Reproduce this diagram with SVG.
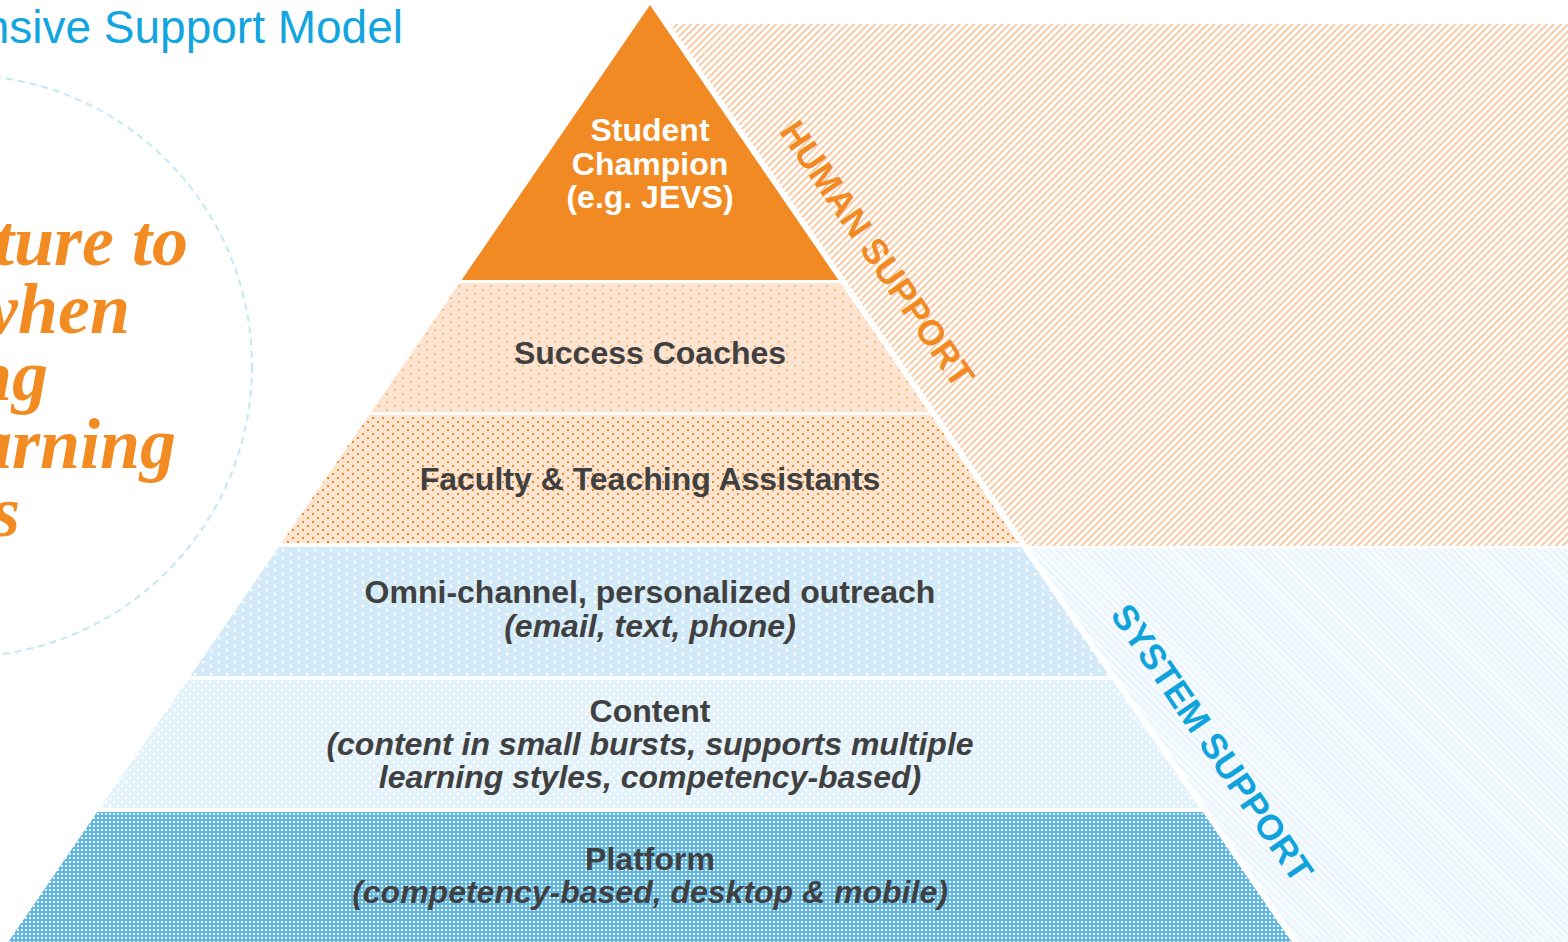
<svg xmlns="http://www.w3.org/2000/svg" width="1568" height="942" viewBox="0 0 1568 942">
<style>
.lbl{font-family:"Liberation Sans",Arial,sans-serif;font-weight:bold;font-size:32px;fill:#404040;text-anchor:middle}
.it{font-style:italic}
.wh{fill:#ffffff}
.big{font-family:"Liberation Serif","Times New Roman",serif;font-weight:bold;font-style:italic;font-size:72px;fill:#F38B23;text-anchor:end}
.side{font-family:"Liberation Sans",Arial,sans-serif;font-weight:bold;font-size:35.5px;text-anchor:middle;dominant-baseline:central}
</style>
<defs>
<pattern id="hatchO" width="5" height="5" patternUnits="userSpaceOnUse" patternTransform="rotate(45)">
<rect width="5" height="5" fill="#ffffff"/>
<rect x="0" y="0" width="1.7" height="5" fill="#F9C195"/>
</pattern>
<pattern id="hatchB" width="5" height="5" patternUnits="userSpaceOnUse" patternTransform="rotate(-45)">
<rect width="5" height="5" fill="#EAF5FD"/>
<rect x="0" y="0" width="1.6" height="5" fill="#ffffff"/>
</pattern>
<pattern id="dotSC" width="16" height="8" patternUnits="userSpaceOnUse">
<rect width="16" height="8" fill="#FDE4D0"/>
<rect x="2" y="1" width="2" height="2" fill="#F9B67C"/>
<rect x="10" y="5" width="2" height="2" fill="#F9B67C"/>
</pattern>
<pattern id="dotFA" width="10" height="8" patternUnits="userSpaceOnUse">
<rect width="10" height="8" fill="#FDE4D0"/>
<rect x="2" y="1" width="2" height="2" fill="#F28A24"/>
<rect x="7" y="5" width="2" height="2" fill="#F28A24"/>
</pattern>
<pattern id="dotOM" width="16" height="8" patternUnits="userSpaceOnUse">
<rect width="16" height="8" fill="#D3EBF9"/>
<rect x="2" y="1" width="2.4" height="2.4" fill="#ffffff"/>
<rect x="10" y="5" width="2.4" height="2.4" fill="#ffffff"/>
</pattern>
<pattern id="dotCO" width="8" height="8" patternUnits="userSpaceOnUse">
<rect width="8" height="8" fill="#E1F2FC"/>
<rect x="1" y="1" width="2.5" height="2.5" fill="#ffffff"/>
<rect x="5" y="5" width="2.5" height="2.5" fill="#ffffff"/>
</pattern>
<pattern id="dotPL" width="4" height="4" patternUnits="userSpaceOnUse">
<rect width="4" height="4" fill="#5DB8EA"/>
<rect x="1" y="1" width="2" height="2" fill="#ffffff"/>
</pattern>
</defs>
<rect width="1568" height="942" fill="#ffffff"/>
<g id="title">
<text x="403" y="43" style="font-family:'Liberation Sans',Arial,sans-serif;font-size:46px;fill:#12A5DF;text-anchor:end">nsive Support Model</text>
</g>
<g id="circle-callout">
<circle cx="-39" cy="366" r="291" fill="none" stroke="#C4E8F8" stroke-width="2" stroke-dasharray="7,5"/>
<text class="big" x="188" y="265">ture to</text>
<text class="big" x="130" y="333">when</text>
<text class="big" x="48" y="400">ng</text>
<text class="big" x="176" y="468">arning</text>
<text class="big" x="20" y="536">s</text>
</g>
<g id="human-support-region">
<polygon points="670,24 1568,24 1568,546 1028,546" fill="url(#hatchO)"/>
<text class="side" x="877" y="254" fill="#F28A24" transform="rotate(55.6 877 254)">HUMAN SUPPORT</text>
</g>
<g id="system-support-region">
<polygon points="1029,548 1568,548 1568,942 1299,942" fill="url(#hatchB)"/>
<text class="side" x="1212" y="743" fill="#10A3DB" transform="rotate(55.6 1212 743)">SYSTEM SUPPORT</text>
</g>
<g id="student-champion">
<polygon points="650,5 838.4,280 461.6,280" fill="#F28A24"/>
<text class="lbl wh" x="650" y="141">Student</text>
<text class="lbl wh" x="650" y="175">Champion</text>
<text class="lbl wh" x="650" y="208">(e.g. JEVS)</text>
</g>
<g id="success-coaches">
<polygon points="459.6,283 840.4,283 928.8,412 371.2,412" fill="url(#dotSC)"/>
<text class="lbl" x="650" y="364">Success Coaches</text>
</g>
<g id="faculty">
<polygon points="369.1,415 930.9,415 1018.5,543 281.5,543" fill="url(#dotFA)"/>
<text class="lbl" x="650" y="490">Faculty &amp; Teaching Assistants</text>
</g>
<g id="outreach">
<polygon points="278.7,547 1021.3,547 1109.6,676 190.4,676" fill="url(#dotOM)"/>
<text class="lbl" x="650" y="603">Omni-channel, personalized outreach</text>
<text class="lbl it" x="650" y="637">(email, text, phone)</text>
</g>
<g id="content">
<polygon points="187.6,680 1112.4,680 1200.1,808 99.9,808" fill="url(#dotCO)"/>
<text class="lbl" x="650" y="722">Content</text>
<text class="lbl it" x="650" y="755">(content in small bursts, supports multiple</text>
<text class="lbl it" x="650" y="788">learning styles, competency-based)</text>
</g>
<g id="platform">
<polygon points="97.2,812 1202.8,812 1291.8,942 8.2,942" fill="url(#dotPL)"/>
<text class="lbl" x="650" y="870">Platform</text>
<text class="lbl it" x="650" y="903">(competency-based, desktop &amp; mobile)</text>
</g>
<g id="connectors"></g>
</svg>
